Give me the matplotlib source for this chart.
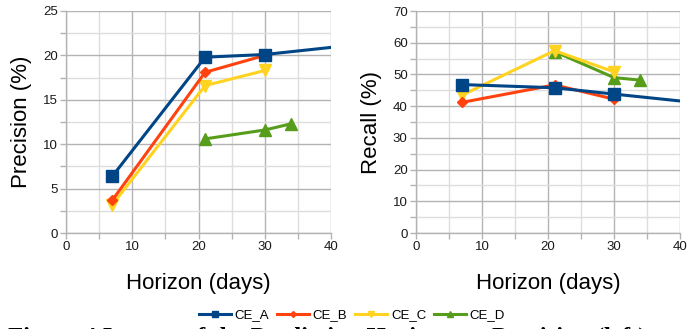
import matplotlib
matplotlib.use("Agg")
import matplotlib.pyplot as plt
from matplotlib.ticker import MultipleLocator

plt.rcParams['font.family'] = ['Liberation Sans', 'DejaVu Sans']

series = ["CE_A", "CE_B", "CE_C", "CE_D"]
horizon_a = [7, 21, 30, 60]
horizon_b = [7, 21, 30]
horizon_c = [7, 21, 30]
horizon_d = [21, 30, 34]
precision_a = [6.4, 19.8, 20.1, 22.5]
precision_b = [3.7, 18.1, 20.0]
precision_c = [3.2, 16.6, 18.3]
precision_d = [10.6, 11.6, 12.3]
recall_a = [46.8, 45.8, 43.8, 37.3]
recall_b = [41.2, 46.7, 42.2]
recall_c = [43.5, 57.5, 50.8]
recall_d = [57.2, 49.0, 48.2]

colors = ["#004586", "#ff420e", "#ffd320", "#579d1c"]
markers = ["s", "D", "v", "^"]
msizes = [8, 5, 8, 8]

horizons = [horizon_a, horizon_b, horizon_c, horizon_d]
precisions = [precision_a, precision_b, precision_c, precision_d]
recalls = [recall_a, recall_b, recall_c, recall_d]

fig = plt.figure(figsize=(6.87, 3.29), dpi=100)
ax1 = fig.add_axes([66/687, 1-233/329, 265/687, 222/329])
ax2 = fig.add_axes([416/687, 1-233/329, 264/687, 222/329])

def style(ax, ymax, ymajor, yminor, ylabel):
    ax.set_xlim(0, 40)
    ax.set_ylim(0, ymax)
    ax.xaxis.set_major_locator(MultipleLocator(10))
    ax.xaxis.set_minor_locator(MultipleLocator(5))
    ax.yaxis.set_major_locator(MultipleLocator(ymajor))
    ax.yaxis.set_minor_locator(MultipleLocator(yminor))
    ax.grid(True, which='major', color='#b3b3b3', lw=1.0, zorder=0)
    ax.grid(True, which='minor', color='#dddddd', lw=1.0, zorder=0)
    ax.set_axisbelow(True)
    for s in ['top', 'right']:
        ax.spines[s].set_visible(False)
    for s in ['left', 'bottom']:
        ax.spines[s].set_color('#b3b3b3')
        ax.spines[s].set_linewidth(1.0)
    ax.tick_params(which='both', direction='out', color='#b3b3b3', length=4, width=1,
                   labelsize=9.5, labelcolor='#1a1a1a', pad=2)
    ax.set_xlabel("Horizon (days)", fontsize=16, labelpad=14)
    ax.set_ylabel(ylabel, fontsize=16, labelpad=8)

handles = []
for ax, ys in [(ax1, precisions), (ax2, recalls)]:
    for i in range(len(series) - 1, -1, -1):
        h, = ax.plot(horizons[i], ys[i], color=colors[i], lw=2.2, marker=markers[i],
                     markersize=msizes[i], label=series[i], zorder=3 + (4 - i), clip_on=True)
        if ax is ax1:
            handles.insert(0, h)

style(ax1, 25, 5, 2.5, "Precision (%)")
style(ax2, 70, 10, 5, "Recall (%)")

fig.legend(handles=handles, labels=series, loc='center', bbox_to_anchor=(352/687, 1-315/329),
           ncol=4, frameon=False, fontsize=9.5, handlelength=2.4, handletextpad=0.3,
           columnspacing=0.6, borderpad=0, markerscale=0.6)

fig.text(8/687, (329-345)/329, "Figure 4 Impact of the Prediction Horizon on Precision (left)",
         fontsize=17.8, fontweight='bold', family=['Liberation Serif', 'DejaVu Serif'],
         ha='left', va='baseline')

fig.savefig("out.png", dpi=100)
